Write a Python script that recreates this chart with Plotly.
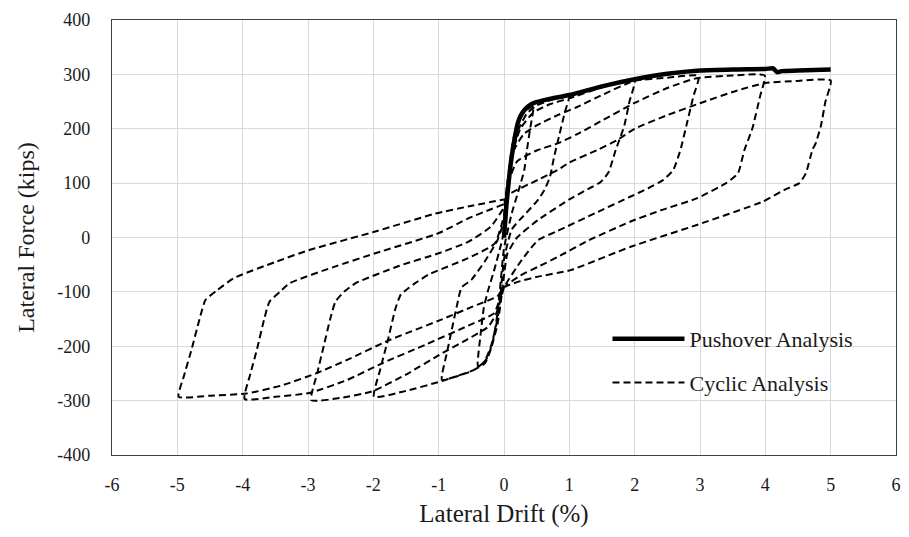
import plotly.graph_objects as go

# ---------------- data ----------------
pushover_x = [0, 0.035, 0.07, 0.11, 0.16, 0.21, 0.26, 0.31, 0.38, 0.47, 0.7, 1.0, 1.5, 2.0, 2.5, 3.0, 3.5, 4.0, 4.12, 4.18, 4.25, 4.5, 5.0]
pushover_y = [0, 57, 100, 142, 180, 210, 225, 234, 242, 248, 255, 262, 278, 291, 301, 307, 309, 310, 311, 304, 306, 307, 309]

cyc05_x = [0, 0.03, 0.08, 0.15, 0.25, 0.35, 0.45, 0.40, 0.35, 0.31, 0.22, 0.12, 0.0,
           -0.05, -0.1, -0.17, -0.25, -0.33, -0.40, -0.36, -0.31, -0.25, -0.15, -0.05, 0.0]
cyc05_y = [0, 60, 130, 185, 220, 235, 242, 200, 160, 124, 85, 45, -20,
           -80, -140, -190, -220, -232, -237, -180, -130, -100, -60, -15, 10]

cyc1_x = [0, 0.05, 0.12, 0.22, 0.35, 0.5, 0.75, 1.0,
          0.93, 0.85, 0.77, 0.70, 0.62, 0.52, 0.3, 0.12, 0,
          -0.05, -0.1, -0.2, -0.3, -0.45, -0.7, -0.95,
          -0.87, -0.8, -0.72, -0.65, -0.5, -0.3, -0.1, 0]
cyc1_y = [10, 70, 145, 198, 228, 243, 254, 262,
          230, 190, 150, 110, 88, 69, 40, 15, -40,
          -100, -150, -200, -228, -243, -254, -262,
          -210, -170, -125, -92, -78, -45, -5, 30]

cyc2_x = [0, 0.05, 0.12, 0.25, 0.45, 0.7, 1.0, 1.5, 2.0,
          1.92, 1.84, 1.71, 1.6, 1.48, 1.3, 1.0, 0.52, 0.2, 0.05, 0,
          -0.05, -0.1, -0.2, -0.29, -0.5, -0.95, -1.5, -1.99,
          -1.9, -1.78, -1.66, -1.58, -1.45, -1.36, -1.15, -0.55, -0.14, 0]
cyc2_y = [30, 90, 150, 200, 230, 245, 256, 276, 290,
          250, 205, 161, 120, 102, 90, 70, 32, 0, -30, -70,
          -120, -160, -205, -231, -246, -264, -282, -293,
          -245, -190, -130, -105, -92, -84, -68, -38, -11, 40]

cyc3_x = [0, 0.05, 0.15, 0.3, 0.5, 0.82, 1.12, 1.5, 1.99, 2.5, 2.98,
          2.9, 2.8, 2.7, 2.59, 2.44, 2.2, 1.93, 1.4, 0.82, 0.52, 0.25, 0,
          -0.05, -0.12, -0.24, -0.6, -0.95, -1.5, -2.02, -2.5, -2.95,
          -2.86, -2.77, -2.66, -2.58, -2.45, -2.27, -1.6, -1.0, -0.55, -0.2, 0]
cyc3_y = [40, 100, 160, 190, 206, 225, 240, 262, 288, 294, 297,
          260, 210, 161, 124, 106, 90, 75, 45, 12, -5, -45, -92,
          -115, -140, -164, -190, -213, -252, -283, -295, -299,
          -250, -205, -150, -118, -100, -84, -52, -29, -8, 20, 55]

cyc4_x = [0, 0.05, 0.2, 0.5, 0.82, 1.12, 1.5, 1.99, 2.5, 2.95, 3.5, 3.99,
          3.92, 3.8, 3.68, 3.58, 3.4, 2.95, 2.4, 1.93, 1.3, 0.82, 0.52, 0.25, 0,
          -0.07, -0.15, -0.6, -1.2, -1.86, -2.4, -2.98, -3.5, -3.97,
          -3.88, -3.78, -3.67, -3.59, -3.43, -3.28, -2.6, -1.97, -1.0, -0.55, -0.2, 0]
cyc4_y = [55, 95, 140, 160, 173, 190, 215, 247, 275, 293, 298, 298,
          260, 200, 161, 118, 100, 72, 50, 29, -5, -36, -54, -70, -92,
          -115, -139, -165, -197, -231, -262, -286, -293, -297,
          -250, -205, -150, -118, -100, -84, -54, -29, 8, 35, 52, 62]

cyc5_x = [0, 0.06, 0.52, 0.82, 1.0, 1.43, 1.73, 2.0, 2.5, 3.0, 3.56, 4.0, 4.5, 5.0,
          4.92, 4.85, 4.77, 4.72, 4.62, 4.52, 4.3, 3.96, 2.95, 1.94, 1.02, 0.52, 0.2, 0,
          -0.1, -0.5, -1.0, -1.76, -2.4, -2.88, -3.4, -3.94, -4.5, -4.98,
          -4.9, -4.78, -4.66, -4.57, -4.4, -4.14, -3.5, -2.98, -1.97, -1.05, -0.55, 0]
cyc5_y = [65, 78, 106, 124, 138, 161, 179, 200, 225, 247, 270, 284, 288, 289,
          250, 205, 173, 161, 118, 100, 88, 66, 23, -17, -60, -72, -82, -92,
          -108, -128, -153, -189, -225, -250, -272, -287, -291, -293,
          -255, -205, -150, -115, -98, -75, -45, -23, 11, 44, 57, 70]

cyclic_x = cyc05_x + cyc1_x + cyc2_x + cyc3_x + cyc4_x + cyc5_x
cyclic_y = cyc05_y + cyc1_y + cyc2_y + cyc3_y + cyc4_y + cyc5_y

x_ticks = [-6, -5, -4, -3, -2, -1, 0, 1, 2, 3, 4, 5, 6]
y_ticks = [-400, -300, -200, -100, 0, 100, 200, 300, 400]

# ---------------- figure ----------------
SERIF = "Liberation Serif, Times New Roman, serif"
TXT = "#1a1a1a"

fig = go.Figure()
fig.add_trace(go.Scatter(
    x=pushover_x, y=pushover_y, mode="lines", name="Pushover Analysis",
    legendgroup="a",
    line=dict(color="black", width=4.5, shape="spline", smoothing=0.6),
))
fig.add_trace(go.Scatter(
    x=cyclic_x, y=cyclic_y, mode="lines", name="Cyclic Analysis",
    legendgroup="b",
    line=dict(color="black", width=2, dash="7px,4px", shape="spline", smoothing=0.5),
))

fig.update_layout(
    width=909, height=537,
    margin=dict(l=112, r=8, t=20, b=82),
    paper_bgcolor="white", plot_bgcolor="white",
    font=dict(family=SERIF, color=TXT),
    showlegend=True,
    legend=dict(
        x=0.632, y=0.315, xanchor="left", yanchor="top",
        bgcolor="rgba(0,0,0,0)", borderwidth=0,
        font=dict(family=SERIF, size=22, color=TXT),
        itemwidth=72, traceorder="grouped", tracegroupgap=12,
    ),
)
fig.update_xaxes(
    range=[-6, 6], tickvals=x_ticks, ticktext=[str(v) for v in x_ticks],
    showgrid=True, gridcolor="#d9d9d9", gridwidth=1, zeroline=False,
    showline=True, linecolor="#404040", linewidth=1.2, mirror=True,
    ticks="", ticklabelstandoff=13,
    tickfont=dict(family=SERIF, size=18, color=TXT),
    title=dict(text="Lateral Drift (%)", font=dict(family=SERIF, size=25, color=TXT), standoff=10),
)
fig.update_yaxes(
    range=[-400, 400], tickvals=y_ticks, ticktext=[str(v) for v in y_ticks],
    showgrid=True, gridcolor="#d9d9d9", gridwidth=1, zeroline=False,
    showline=True, linecolor="#404040", linewidth=1.2, mirror=True,
    ticks="", ticklabelstandoff=17,
    tickfont=dict(family=SERIF, size=18, color=TXT),
    title=dict(text="Lateral Force (kips)", font=dict(family=SERIF, size=24, color=TXT), standoff=15),
)

fig.write_html("out.html")
